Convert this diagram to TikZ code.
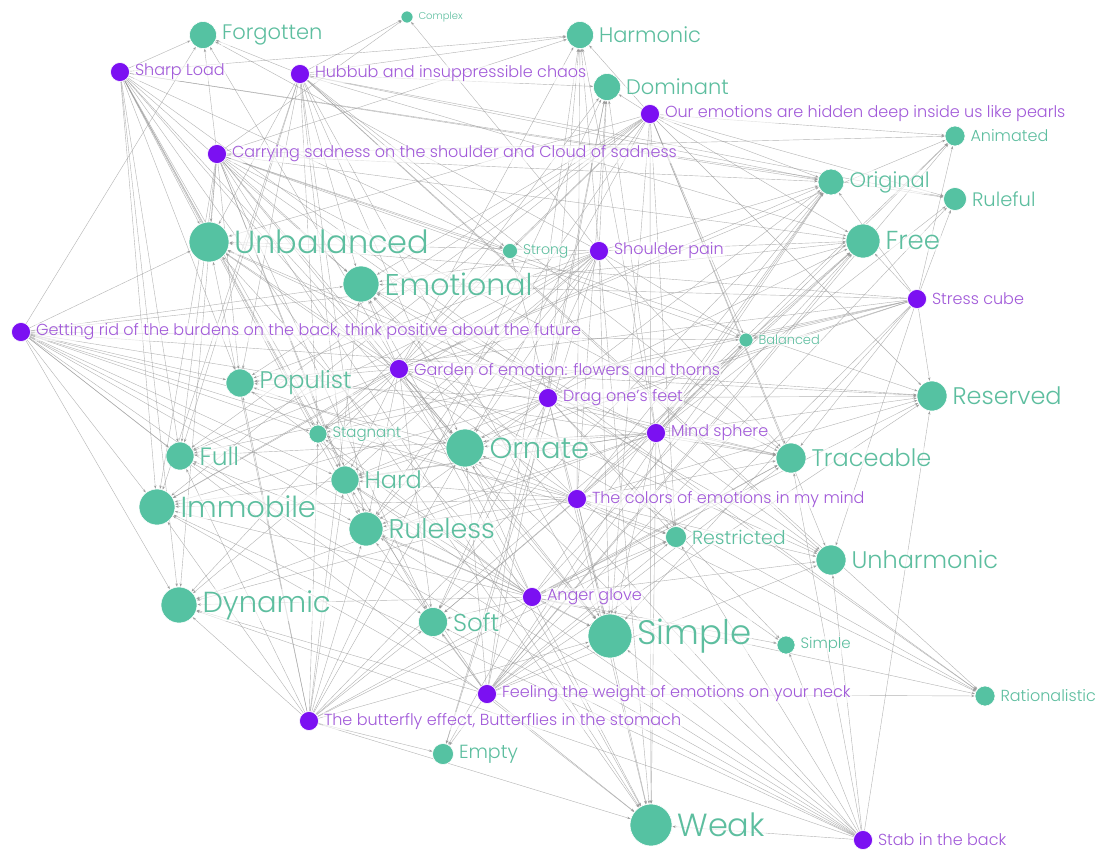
\documentclass[tikz,border=0pt]{standalone}
\usepackage{fontspec}
\setmainfont{Poppins}[UprightFont=* Light]
\usetikzlibrary{arrows.meta}
\pgfdeclarelayer{bg}
\pgfsetlayers{bg,main}
\definecolor{gfill}{HTML}{55C2A2}
\definecolor{gtext}{HTML}{5DBE9F}
\definecolor{pfill}{HTML}{7B10F2}
\definecolor{ptext}{HTML}{A159D9}
\definecolor{edgec}{HTML}{9A9A9A}
\tikzset{
  gdot/.style={circle,fill=gfill,draw=white,line width=0.6pt,inner sep=0pt},
  pdot/.style={circle,fill=pfill,draw=white,line width=0.6pt,inner sep=0pt,minimum size=19pt},
  glab/.style={text=gtext,fill=white,fill opacity=0.6,text opacity=1,inner sep=1pt},
  plab/.style={text=ptext,fill=white,fill opacity=0.6,text opacity=1,inner sep=1pt,font=\fontsize{16}{16}\selectfont},
  edge/.style={draw=edgec,line width=0.4pt,draw opacity=0.75,-{Stealth[length=3.5pt,width=2.5pt]}}
}
\newcommand\gn[6]{\node[gdot,minimum size=#4pt] (#1) at (#2,#3) {};
  \node[glab,font=\fontsize{#5}{#5}\selectfont,anchor=west] (#1-t) at ([xshift=4pt]#1.east) {#6};}
\newcommand\pn[4]{\node[pdot] (#1) at (#2,#3) {};
  \node[plab,anchor=west] (#1-t) at ([xshift=4pt]#1.east) {#4};}
\begin{document}
\begin{tikzpicture}[x=1pt,y=-1pt]
\begin{pgfonlayer}{bg}
\path[use as bounding box,fill=white] (0,0) rectangle (1100,852);
\end{pgfonlayer}
% green nodes
\gn{forgotten}{203}{35}{27}{21}{Forgotten}
\gn{complex}{407}{17}{12}{10}{Complex}
\gn{harmonic}{580}{35}{27}{21}{Harmonic}
\gn{dominant}{607}{87}{27}{21}{Dominant}
\gn{animated}{955}{136}{20}{16}{Animated}
\gn{original}{831}{182}{26}{21}{Original}
\gn{ruleful}{955}{199}{23}{19.5}{Ruleful}
\gn{unbalanced}{209}{242}{40}{32}{Unbalanced}
\gn{strong}{510}{251}{15}{14}{Strong}
\gn{free}{863}{241}{34}{26}{Free}
\gn{emotional}{361}{284}{36}{30}{Emotional}
\gn{balanced}{746}{340}{14}{13}{Balanced}
\gn{populist}{240}{383}{28}{24}{Populist}
\gn{reserved}{932}{396}{30}{24}{Reserved}
\gn{stagnant}{318}{434}{18}{15}{Stagnant}
\gn{ornate}{465}{448}{38}{29}{Ornate}
\gn{full}{180}{456}{28}{25}{Full}
\gn{traceable}{791}{458}{30}{24}{Traceable}
\gn{hard}{345}{480}{28}{24}{Hard}
\gn{immobile}{157}{507}{36}{29}{Immobile}
\gn{ruleless}{366}{529}{34}{27}{Ruleless}
\gn{restricted}{676}{537}{21}{19}{Restricted}
\gn{unharmonic}{831}{560}{30}{24}{Unharmonic}
\gn{dynamic}{179}{605}{36}{29}{Dynamic}
\gn{soft}{433}{622}{29}{24.5}{Soft}
\gn{simpleA}{610}{636}{44}{34}{Simple}
\gn{simpleB}{786}{645}{18}{15}{Simple}
\gn{rational}{985}{696}{20}{16}{Rationalistic}
\gn{empty}{443}{754}{21}{19}{Empty}
\gn{weak}{651}{825}{42}{32}{Weak}
% purple nodes
\pn{sharp}{120}{72}{Sharp Load}
\pn{hubbub}{300}{74}{Hubbub and insuppressible chaos}
\pn{pearls}{650}{114}{Our emotions are hidden deep inside us like pearls}
\pn{carrying}{217}{154}{Carrying sadness on the shoulder and Cloud of sadness}
\pn{shoulder}{599}{251}{Shoulder pain}
\pn{stress}{917}{299}{Stress cube}
\pn{burdens}{21}{332}{Getting rid of the burdens on the back, think positive about the future}
\pn{garden}{399}{369}{Garden of emotion: flowers and thorns}
\pn{drag}{548}{398}{Drag one's feet}
\pn{mind}{656}{433}{Mind sphere}
\pn{colors}{577}{499}{The colors of emotions in my mind}
\pn{anger}{532}{597}{Anger glove}
\pn{neck}{487}{694}{Feeling the weight of emotions on your neck}
\pn{butterfly}{309}{721}{The butterfly effect, Butterflies in the stomach}
\pn{stab}{863}{840}{Stab in the back}
% edges
\begin{pgfonlayer}{bg}
\foreach \t in {forgotten,harmonic,unbalanced,emotional,populist,full,immobile,dynamic,hard,ruleless,stagnant,ornate,soft,simpleA,weak,strong,original,rational,ruleful}
  \draw[edge] (sharp) -- (\t);
\foreach \t in {forgotten,harmonic,complex,dominant,unbalanced,emotional,populist,full,immobile,stagnant,hard,ornate,ruleless,free,original,ruleful,traceable,unharmonic,simpleA,strong,rational}
  \draw[edge] (hubbub) -- (\t);
\foreach \t in {forgotten,complex,harmonic,unbalanced,emotional,populist,full,immobile,dynamic,hard,ruleless,ornate,soft,simpleA,weak,traceable,original,free,reserved,strong,balanced,animated,rational}
  \draw[edge] (carrying) -- (\t);
\foreach \t in {harmonic,dominant,animated,original,ruleful,free,unbalanced,emotional,strong,ornate,populist,ruleless,full,immobile,reserved,traceable,restricted,unharmonic,simpleA,weak,balanced,stagnant}
  \draw[edge] (pearls) -- (\t);
\foreach \t in {harmonic,dominant,complex,forgotten,unbalanced,emotional,free,original,balanced,ornate,populist,hard,ruleless,stagnant,immobile,full,dynamic,soft,simpleA,weak,empty,traceable}
  \draw[edge] (shoulder) -- (\t);
\foreach \t in {free,original,animated,ruleful,reserved,traceable,unharmonic,balanced,emotional,unbalanced,ornate,populist,restricted,simpleA,hard,stagnant,full}
  \draw[edge] (stress) -- (\t);
\foreach \t in {forgotten,unbalanced,emotional,populist,full,immobile,dynamic,stagnant,hard,ornate,ruleless,balanced,reserved,traceable,soft,simpleA,restricted,free,weak}
  \draw[edge] (burdens) -- (\t);
\foreach \t in {forgotten,harmonic,dominant,unbalanced,emotional,strong,populist,full,immobile,dynamic,stagnant,hard,ornate,ruleless,soft,simpleA,weak,traceable,unharmonic,reserved,free,original,animated,rational}
  \draw[edge] (garden) -- (\t);
\foreach \t in {harmonic,dominant,unbalanced,emotional,strong,free,original,ornate,populist,hard,ruleless,immobile,soft,simpleA,weak,traceable,reserved,restricted,unharmonic,simpleB,empty}
  \draw[edge] (drag) -- (\t);
\foreach \t in {harmonic,dominant,unbalanced,emotional,free,original,ruleful,animated,balanced,reserved,traceable,unharmonic,restricted,ornate,ruleless,hard,full,immobile,soft,simpleA,weak,dynamic}
  \draw[edge] (mind) -- (\t);
\foreach \t in {harmonic,dominant,free,original,animated,reserved,traceable,unharmonic,restricted,ornate,ruleless,hard,stagnant,populist,immobile,dynamic,soft,simpleA,weak,simpleB,rational,emotional,unbalanced}
  \draw[edge] (colors) -- (\t);
\foreach \t in {weak,simpleA,soft,ruleless,hard,dynamic,immobile,full,ornate,emotional,unbalanced,populist,free,original,traceable,reserved,unharmonic,restricted,simpleB,stagnant,empty,rational}
  \draw[edge] (anger) -- (\t);
\foreach \t in {rational,empty,weak,simpleA,soft,dynamic,ruleless,hard,immobile,free,original,animated,ruleful,traceable,reserved,restricted,unharmonic,ornate,balanced,dominant,harmonic}
  \draw[edge] (neck) -- (\t);
\foreach \t in {empty,weak,dynamic,immobile,full,soft,ruleless,hard,stagnant,unbalanced,populist,ornate,emotional,free,original,simpleA,traceable,restricted,dominant}
  \draw[edge] (butterfly) -- (\t);
\foreach \t in {weak,simpleB,unharmonic,reserved,simpleA,restricted,soft,ruleless,hard,ornate,immobile,dynamic,traceable,full,emotional}
  \draw[edge] (stab) -- (\t);
\end{pgfonlayer}
\end{tikzpicture}
\end{document}
